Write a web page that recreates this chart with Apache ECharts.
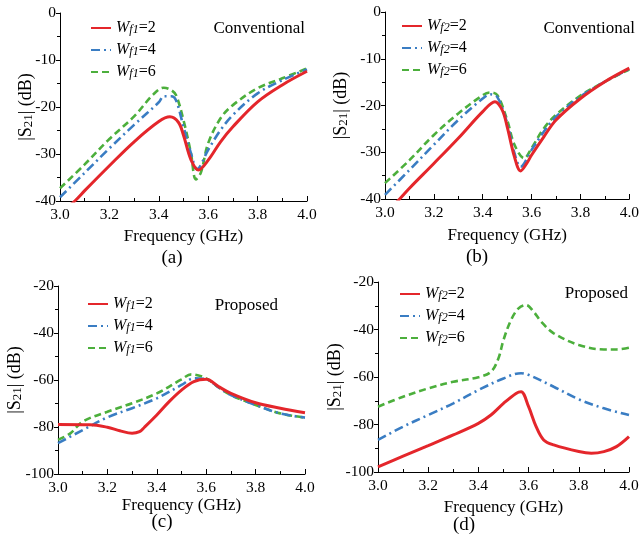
<!DOCTYPE html>
<html><head><meta charset="utf-8">
<script src="https://cdn.jsdelivr.net/npm/echarts@6/dist/echarts.min.js"></script>
<style>html,body{margin:0;padding:0;background:#fff}#c{width:642px;height:548px}</style>
</head><body><div id="c"></div>
<script>
// ---- data: [frequency (GHz), |S21| (dB)] ----
const aRed   = [[3.0,-42.5],[3.06,-40],[3.1,-37.8],[3.2,-32.5],[3.3,-27.4],[3.4,-23.1],[3.445,-22.1],[3.48,-23.3],[3.5,-26.0],[3.53,-31.2],[3.56,-33.4],[3.6,-31.3],[3.65,-27.4],[3.7,-24.2],[3.8,-18.9],[3.9,-15.3],[4.0,-12.4]];
const aBlue  = [[3.0,-39.2],[3.1,-34.0],[3.2,-28.8],[3.3,-23.8],[3.4,-19.0],[3.42,-17.7],[3.45,-17.7],[3.47,-18.6],[3.5,-24.2],[3.53,-29.8],[3.555,-33.2],[3.6,-29.1],[3.65,-24.9],[3.7,-21.7],[3.8,-17.1],[3.9,-14.3],[4.0,-12.0]];
const aGreen = [[3.0,-37.3],[3.1,-32.2],[3.2,-26.8],[3.3,-22.0],[3.38,-17.2],[3.42,-15.9],[3.45,-16.4],[3.47,-17.5],[3.5,-22.8],[3.53,-29.8],[3.55,-35.4],[3.57,-34.0],[3.6,-27.7],[3.65,-22.4],[3.7,-19.6],[3.8,-16.0],[3.9,-13.9],[4.0,-11.8]];

const bRed   = [[3.0,-43.0],[3.06,-40],[3.1,-37.7],[3.2,-32.4],[3.3,-27.0],[3.4,-21.3],[3.45,-19.2],[3.48,-21.0],[3.5,-24.5],[3.53,-31.0],[3.555,-34.0],[3.58,-32.4],[3.6,-30.6],[3.65,-26.7],[3.7,-23.1],[3.8,-18.5],[3.9,-14.9],[4.0,-12.0]];
const bBlue  = [[3.0,-39.1],[3.1,-33.8],[3.2,-28.4],[3.3,-23.1],[3.4,-18.5],[3.43,-17.6],[3.46,-18.2],[3.5,-23.8],[3.53,-30.2],[3.555,-33.1],[3.6,-29.5],[3.65,-25.6],[3.7,-22.4],[3.8,-18.1],[3.9,-14.9],[4.0,-12.2]];
const bGreen = [[3.0,-36.6],[3.1,-31.7],[3.2,-26.3],[3.3,-21.7],[3.4,-17.8],[3.43,-17.2],[3.46,-17.8],[3.5,-23.1],[3.53,-28.4],[3.57,-31.3],[3.6,-29.1],[3.65,-24.9],[3.7,-22.0],[3.8,-17.9],[3.9,-14.9],[4.0,-12.3]];

const cRed   = [[3.0,-78.9],[3.13,-79.0],[3.2,-80.1],[3.25,-81.6],[3.3,-82.7],[3.33,-82.0],[3.35,-80.1],[3.4,-74.9],[3.45,-69.2],[3.5,-64.3],[3.55,-60.7],[3.6,-59.7],[3.65,-62.8],[3.7,-65.7],[3.8,-69.7],[3.9,-72.0],[4.0,-73.9]];
const cBlue  = [[3.0,-86.9],[3.1,-81.3],[3.2,-75.9],[3.3,-72.0],[3.4,-67.8],[3.5,-62.1],[3.55,-59.3],[3.6,-59.7],[3.65,-63.1],[3.7,-66.4],[3.8,-70.6],[3.9,-74.2],[4.0,-76.0]];
const cGreen = [[3.0,-85.5],[3.05,-82.7],[3.1,-77.7],[3.2,-73.5],[3.3,-69.9],[3.4,-65.7],[3.5,-59.7],[3.54,-57.6],[3.6,-59.3],[3.65,-63.1],[3.7,-66.4],[3.8,-70.6],[3.9,-74.2],[4.0,-76.0]];

const dRed   = [[3.0,-97.8],[3.1,-93.3],[3.2,-88.9],[3.3,-84.4],[3.4,-79.5],[3.45,-76.0],[3.5,-71.1],[3.55,-66.9],[3.57,-66.2],[3.6,-72.5],[3.63,-80.9],[3.66,-86.5],[3.7,-88.6],[3.8,-91.4],[3.85,-92.1],[3.9,-91.4],[3.95,-89.3],[4.0,-85.1]];
const dBlue  = [[3.0,-86.5],[3.1,-80.9],[3.2,-76.0],[3.3,-71.1],[3.4,-65.5],[3.5,-60.6],[3.57,-58.4],[3.6,-59.1],[3.7,-64.1],[3.8,-69.4],[3.9,-73.2],[4.0,-76.0]];
const dGreen = [[3.0,-72.5],[3.1,-68.3],[3.2,-64.8],[3.3,-62.0],[3.4,-60.1],[3.45,-57.8],[3.48,-52.1],[3.5,-44.4],[3.53,-36.0],[3.56,-31.1],[3.59,-29.7],[3.62,-32.5],[3.65,-36.7],[3.7,-41.6],[3.8,-46.5],[3.9,-48.4],[3.95,-48.4],[4.0,-47.7]];

const namesF1 = ['Wf1=2','Wf1=4','Wf1=6'];
const namesF2 = ['Wf2=2','Wf2=4','Wf2=6'];
const panelNotes = ['Conventional','Conventional','Proposed','Proposed'];
const captions = ['(a)','(b)','(c)','(d)'];

// ---- layout / style ----
const FONT = '"Liberation Serif","Times New Roman",serif';
const grids = [
  {left:60, top:13, width:247, height:188},
  {left:385, top:12, width:247, height:187},
  {left:58, top:286, width:247, height:188},
  {left:378, top:282, width:251, height:190}
];
const yRanges = [[-40,0,10],[-40,0,10],[-100,-20,20],[-100,-20,20]];
const xNameGaps = [27,28,23,27];
const yNameGaps = [25,35,34,34];
const colors = ['#e4262b','#3a7dc3','#4caf3c'];
const lineTypes = ['solid',[9,4,2,4],[7,4]];
const widths = [3,2.6,2.6];

const chart = echarts.init(document.getElementById('c'), null, {renderer:'canvas'});

const xAxes = grids.map((g,i)=>({
  type:'value', gridIndex:i, min:3, max:4, interval:0.2,
  axisLine:{show:true, onZero:false, lineStyle:{color:'#000', width:1}},
  axisTick:{show:true, inside:true, length:5, lineStyle:{color:'#000'}},
  minorTick:{show:true, splitNumber:2, length:3, lineStyle:{color:'#000'}},
  splitLine:{show:false},
  axisLabel:{color:'#000', fontFamily:FONT, fontSize:15.5, margin:6, formatter:v=>v.toFixed(1)},
  name:'Frequency (GHz)', nameLocation:'middle', nameGap:xNameGaps[i], nameMoveOverlap:false,
  nameTextStyle:{color:'#000', fontFamily:FONT, fontSize:17}
}));
const yAxes = grids.map((g,i)=>({
  type:'value', gridIndex:i, min:yRanges[i][0], max:yRanges[i][1], interval:yRanges[i][2],
  axisLine:{show:true, onZero:false, lineStyle:{color:'#000', width:1}},
  axisTick:{show:true, inside:false, length:4, lineStyle:{color:'#000'}},
  minorTick:{show:true, splitNumber:2, length:3, lineStyle:{color:'#000'}},
  splitLine:{show:false},
  axisLabel:{color:'#000', fontFamily:FONT, fontSize:15.5, margin:4},
  name:'|S{s|21}| (dB)', nameLocation:'middle', nameGap:yNameGaps[i], nameMoveOverlap:false,
  nameTextStyle:{color:'#000', fontFamily:FONT, fontSize:18,
    rich:{s:{fontFamily:FONT, fontSize:13, color:'#000', verticalAlign:'bottom', lineHeight:12}}}
}));

const panelData = [[aRed,aBlue,aGreen],[bRed,bBlue,bGreen],[cRed,cBlue,cGreen],[dRed,dBlue,dGreen]];
const panelNames = [namesF1,namesF2,namesF1,namesF2];
const series = [];
panelData.forEach((arr,p)=>{
  arr.forEach((d,k)=>{
    series.push({
      type:'line', name:panelNames[p][k], xAxisIndex:p, yAxisIndex:p, data:d,
      symbol:'none', smooth:0.35, clip:true,
      lineStyle:{color:colors[k], width:widths[k], type:lineTypes[k]},
      itemStyle:{color:colors[k]}, z: 5-k
    });
  });
});

const legendPos = [
  {left:90, top:20},{left:401, top:18},{left:87, top:296},{left:399, top:286}
];
const legends = legendPos.map((lp,p)=>({
  show:true,
  data: panelNames[p],
  orient:'vertical', left:lp.left, top:lp.top, itemWidth:20, itemHeight:12,
  itemGap:6, padding:0, selectedMode:false,
  itemStyle:{opacity:0},
  formatter: n=>n.replace(/^W(f\d)(=\d)$/, '{i|W}{s|$1}{n|$2}'),
  textStyle:{color:'#000', fontFamily:FONT, fontSize:16,
    rich:{
      i:{fontFamily:FONT, fontSize:16, fontStyle:'italic', color:'#000', lineHeight:16},
      s:{fontFamily:FONT, fontSize:12, fontStyle:'italic', color:'#000', verticalAlign:'bottom', lineHeight:11},
      n:{fontFamily:FONT, fontSize:16, color:'#000', lineHeight:16}
    }}
}));

const notePos = [[305,30],[635,30],[278,307],[628,295]];
const capPos = [[172,258],[477,257],[162,522],[464,525]];
const graphic = [];
notePos.forEach((np,i)=>graphic.push({type:'text', right:642-np[0], top:np[1]-10,
  style:{text:panelNotes[i], font:'17px '+FONT, fill:'#000'}}));
capPos.forEach((cp,i)=>graphic.push({type:'text', x:cp[0], y:cp[1],
  style:{text:captions[i], font:'19px '+FONT, fill:'#000', align:'center', verticalAlign:'middle'}}));

chart.setOption({
  animation:false, backgroundColor:'#fff',
  grid: grids, xAxis:xAxes, yAxis:yAxes, series, legend:legends, graphic
});
</script></body></html>
